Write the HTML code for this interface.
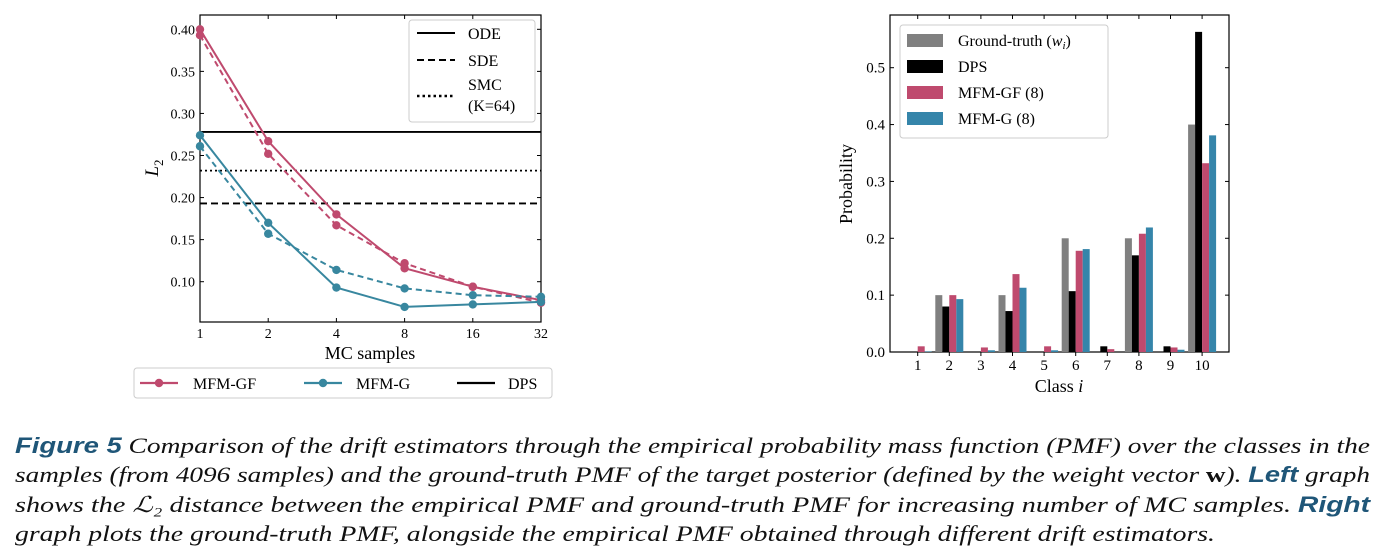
<!DOCTYPE html>
<html><head><meta charset="utf-8"><style>
html,body{margin:0;padding:0;background:#fff;}
svg{display:block;font-family:"Liberation Serif","DejaVu Serif",serif;}
</style></head><body>
<svg id="fig" width="1384" height="559" viewBox="0 0 1384 559">
<g id="left"></g>
<g id="right"></g>
<g id="caption" font-style="italic" font-size="22" fill="#111">
<text x="15" y="453" textLength="1355" lengthAdjust="spacingAndGlyphs"><tspan font-family="Liberation Sans, sans-serif" font-weight="bold" fill="#1f5678">Figure 5</tspan>   Comparison of the drift estimators through the empirical probability mass function (PMF) over the classes in the</text>
<text x="15" y="482" textLength="1355" lengthAdjust="spacingAndGlyphs">samples (from 4096 samples) and the ground-truth PMF of the target posterior (defined by the weight vector <tspan font-style="normal" font-weight="bold">w</tspan>). <tspan font-family="Liberation Sans, sans-serif" font-weight="bold" fill="#1f5678">Left</tspan> graph</text>
<text x="15" y="512" textLength="1355" lengthAdjust="spacingAndGlyphs">shows the ℒ₂ distance between the empirical PMF and ground-truth PMF for increasing number of MC samples. <tspan font-family="Liberation Sans, sans-serif" font-weight="bold" fill="#1f5678">Right</tspan></text>
<text x="15" y="541" textLength="1200" lengthAdjust="spacingAndGlyphs">graph plots the ground-truth PMF, alongside the empirical PMF obtained through different drift estimators.</text>
</g>
</svg>
<script>
// ---- left chart data ----
const mcSamples = [1, 2, 4, 8, 16, 32];
const gfSolid = [0.400, 0.267, 0.180, 0.116, 0.094, 0.078];
const gfDashed = [0.393, 0.252, 0.167, 0.122, 0.094, 0.075];
const gSolid = [0.274, 0.170, 0.093, 0.070, 0.073, 0.076];
const gDashed = [0.261, 0.157, 0.114, 0.092, 0.084, 0.082];
const dpsODE = 0.278, dpsSMC = 0.232, dpsSDE = 0.193;
const leftYTicks = [0.10, 0.15, 0.20, 0.25, 0.30, 0.35, 0.40];
// ---- right chart data ----
const classes = [1,2,3,4,5,6,7,8,9,10];
const groundTruth = [0, 0.1, 0, 0.1, 0, 0.2, 0, 0.2, 0, 0.4];
const dpsProb = [0, 0.080, 0, 0.072, 0, 0.107, 0.010, 0.170, 0.010, 0.563];
const gfProb = [0.010, 0.100, 0.008, 0.137, 0.010, 0.178, 0.005, 0.208, 0.008, 0.332];
const gProb = [0.001, 0.093, 0.003, 0.113, 0.003, 0.181, 0, 0.219, 0.004, 0.381];
const rightYTicks = [0.0, 0.1, 0.2, 0.3, 0.4, 0.5];

const NS = "http://www.w3.org/2000/svg";
const PINK = "#bf4a6e", TEAL = "#38879f", BLUE = "#3585aa";
function mk(parent, tag, attrs, text){
  const e = document.createElementNS(NS, tag);
  for (const k in attrs) e.setAttribute(k, attrs[k]);
  if (text !== undefined) e.textContent = text;
  parent.appendChild(e);
  return e;
}
// ===== LEFT =====
const L = document.getElementById('left');
const lx0 = 200, lx1 = 541, ly0 = 15, ly1 = 322;
const lxs = v => lx0 + Math.log2(v) / 5 * (lx1 - lx0);
const lys = v => 281.7 - (v - 0.1) * 841.3;
let ax = mk(L, 'rect', {x:lx0, y:ly0, width:lx1-lx0, height:ly1-ly0, fill:'none', stroke:'#000', 'stroke-width':1.2});


leftYTicks.forEach(t => {
  const y = lys(t);
  mk(L, 'line', {x1:lx0, x2:lx0+4, y1:y, y2:y, stroke:'#000'});
  mk(L, 'line', {x1:lx1, x2:lx1-4, y1:y, y2:y, stroke:'#000'});
  const tx = mk(L, 'text', {x:lx0-5, y:y+5, 'font-size':14, 'text-anchor':'end'}, t.toFixed(2));
  
  
});
mcSamples.forEach((m, i) => {
  const x = lxs(m);
  mk(L, 'line', {x1:x, x2:x, y1:ly1, y2:ly1-4, stroke:'#000'});
  mk(L, 'line', {x1:x, x2:x, y1:ly0, y2:ly0+4, stroke:'#000'});
  const tx = mk(L, 'text', {x:x, y:ly1+16, 'font-size':14, 'text-anchor':'middle'}, String(m));
  
  
});
let t1 = mk(L, 'text', {x:370, y:359, 'font-size':18, 'text-anchor':'middle'}, 'MC samples');


let t2 = mk(L, 'text', {x:0, y:0, 'font-size':19, 'font-style':'italic', 'text-anchor':'middle', transform:'translate(158,168) rotate(-90)'}, 'L');


mk(t2, 'tspan', {'font-size':13, 'font-style':'normal', dy:5}, '2');
// horizontal DPS lines
[[dpsODE,'none','ode'],[dpsSMC,'2 3','smc'],[dpsSDE,'7 4','sde']].forEach(h => {
  const ln = mk(L, 'line', {x1:lx0, x2:lx1, y1:lys(h[0]), y2:lys(h[0]), stroke:'#000', 'stroke-width':1.8, 'stroke-dasharray':h[1]});
  
  
});
function series(vals, color, dash, name){
  const pts = vals.map((v,i)=>lxs(mcSamples[i]).toFixed(1)+','+lys(v).toFixed(1)).join(' ');
  const pl = mk(L, 'polyline', {points:pts, fill:'none', stroke:color, 'stroke-width':2, 'stroke-dasharray':dash});
  
  
  vals.forEach((v,i) => {
    const c = mk(L, 'circle', {cx:lxs(mcSamples[i]), cy:lys(v), r:4.2, fill:color});
    
    
  });
}
series(gfSolid, PINK, 'none', 'mfm-gf-ode');
series(gfDashed, PINK, '6 4', 'mfm-gf-sde');
series(gSolid, TEAL, 'none', 'mfm-g-ode');
series(gDashed, TEAL, '6 4', 'mfm-g-sde');
// inner legend
let lg = mk(L, 'g', {});


mk(lg, 'rect', {x:409, y:20, width:126, height:102, rx:3, fill:'#fff', 'fill-opacity':0.85, stroke:'#ccc'});
[['ODE',33,'none'],['SDE',60,'7 4']].forEach(e=>{
  mk(lg, 'line', {x1:417, x2:455, y1:e[1], y2:e[1], stroke:'#000', 'stroke-width':2, 'stroke-dasharray':e[2]});
  mk(lg, 'text', {x:468, y:e[1]+6, 'font-size':16}, e[0]);
});
mk(lg, 'line', {x1:417, x2:455, y1:96, y2:96, stroke:'#000', 'stroke-width':2.5, 'stroke-dasharray':'2.5 3'});
mk(lg, 'text', {x:468, y:90, 'font-size':16}, 'SMC');
mk(lg, 'text', {x:468, y:111, 'font-size':16}, '(K=64)');
// bottom legend
let bl = mk(L, 'g', {});


mk(bl, 'rect', {x:134, y:368, width:418, height:30, rx:3, fill:'#fff', stroke:'#ccc'});
[[PINK,'MFM-GF',140,193],[TEAL,'MFM-G',304,356]].forEach(e=>{
  mk(bl,'line',{x1:e[2],x2:e[2]+38,y1:383,y2:383,stroke:e[0],'stroke-width':2.2});
  mk(bl,'circle',{cx:e[2]+19,cy:383,r:4.2,fill:e[0]});
  mk(bl,'text',{x:e[3],y:389,'font-size':16},e[1]);
});
mk(bl,'line',{x1:457,x2:495,y1:383,y2:383,stroke:'#000','stroke-width':2.2});
mk(bl,'text',{x:508,y:389,'font-size':16},'DPS');

// ===== RIGHT =====
const R = document.getElementById('right');
const rx0 = 890, rx1 = 1229, ry0 = 15, ry1 = 352;
const rys = v => ry1 - v * 568.6;
const rxs = c => 917.7 + (c - 1) * 31.6;
let rax = mk(R, 'rect', {x:rx0, y:ry0, width:rx1-rx0, height:ry1-ry0, fill:'none', stroke:'#000', 'stroke-width':1.2});


rightYTicks.forEach(t=>{
  const y = rys(t);
  mk(R,'line',{x1:rx0,x2:rx0+4,y1:y,y2:y,stroke:'#000'});
  mk(R,'line',{x1:rx1,x2:rx1-4,y1:y,y2:y,stroke:'#000'});
  const tx = mk(R,'text',{x:rx0-5,y:y+5,'font-size':15,'text-anchor':'end'},t.toFixed(1));
  
  
});
const series4 = [[groundTruth,'#808080','ground-truth'],[dpsProb,'#000','dps'],[gfProb,PINK,'mfm-gf'],[gProb,BLUE,'mfm-g']];
const bw = 7;
classes.forEach((c,i)=>{
  const xc = rxs(c);
  mk(R,'line',{x1:xc,x2:xc,y1:ry1,y2:ry1+4,stroke:'#000'});
  mk(R,'line',{x1:xc,x2:xc,y1:ry0,y2:ry0+4,stroke:'#000'});
  const tx = mk(R,'text',{x:xc,y:ry1+18,'font-size':15,'text-anchor':'middle'},String(c));
  
  
  series4.forEach((s,j)=>{
    const v = s[0][i];
    const b = mk(R,'rect',{x:xc-14+j*bw, y:rys(v), width:bw, height:Math.max(0, ry1-rys(v)), fill:s[1]});
    
    
  });
});
let rt = mk(R,'text',{x:1059,y:392,'font-size':18,'text-anchor':'middle'},'Class ');


mk(rt,'tspan',{'font-style':'italic'},'i');
let ry = mk(R,'text',{x:0,y:0,'font-size':18,'text-anchor':'middle',transform:'translate(852,184) rotate(-90)'},'Probability');


let rl = mk(R,'g',{});


mk(rl,'rect',{x:900,y:25,width:208,height:113,rx:3,fill:'#fff','fill-opacity':0.85,stroke:'#ccc'});
const lab = ['Ground-truth (','DPS','MFM-GF (8)','MFM-G (8)'];
series4.forEach((s,j)=>{
  const y = 40 + j*26;
  mk(rl,'rect',{x:907,y:y-6,width:36,height:13,fill:s[1]});
  const t = mk(rl,'text',{x:958,y:y+6,'font-size':16},lab[j]);
  if (j===0){ const ts = mk(t,'tspan',{'font-style':'italic'},'w'); mk(t,'tspan',{'font-size':11,'font-style':'italic',dy:3},'i'); mk(t,'tspan',{dy:-3},')'); }
});
</script>
</body></html>
